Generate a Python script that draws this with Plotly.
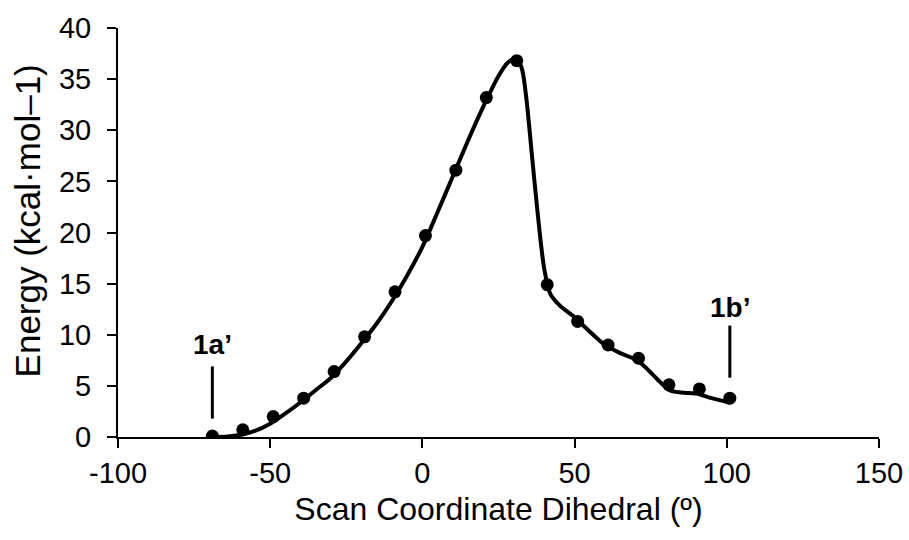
import plotly.graph_objects as go

# Scan points (dihedral in degrees, energy in kcal/mol)
scan_x = [-69, -59, -49, -39, -29, -19, -9, 1, 11, 21, 31, 41, 51, 61, 71, 81, 91, 101]
scan_y = [0.1, 0.7, 2.0, 3.8, 6.4, 9.8, 14.2, 19.7, 26.1, 33.2, 36.8, 14.9, 11.3, 9.0, 7.7, 5.1, 4.7, 3.8]

# Smooth fitted curve
fit_x = [-69, -64, -60, -55, -50, -45, -40, -35, -30, -25, -20, -15, -10, -5, 0, 5, 10, 15, 20, 25,
         28, 30.5, 32.5, 34, 36, 38, 40, 42, 45, 50, 55, 60, 65, 70, 73, 77, 81, 85, 90, 95, 101]
fit_y = [0.0, 0.05, 0.2, 0.6, 1.3, 2.3, 3.4, 4.6, 5.8, 7.4, 9.2, 11.1, 13.3, 15.8, 18.6, 22.0, 25.5, 29.0, 32.3, 35.3,
         36.6, 37.0, 36.2, 33.5, 27.5, 21.5, 16.5, 14.0, 12.9, 11.7, 10.3, 9.0, 8.2, 7.6, 6.9, 5.7, 4.6, 4.35, 4.25, 3.8, 3.35]

x_ticks = [-100, -50, 0, 50, 100, 150]
y_ticks = [0, 5, 10, 15, 20, 25, 30, 35, 40]

FONT = "Liberation Sans, Arial, sans-serif"

fig = go.Figure()
fig.add_trace(go.Scatter(x=fit_x, y=fit_y, mode="lines",
                         line=dict(color="black", width=4, shape="spline", smoothing=0.8),
                         showlegend=False, hoverinfo="skip"))
fig.add_trace(go.Scatter(x=scan_x, y=scan_y, mode="markers",
                         marker=dict(color="black", size=13),
                         showlegend=False))

# labels for end structures
labels = [("1a’", scan_x[0], scan_y[0], 1.8, 6.9, 9.0),
          ("1b’", scan_x[-1], scan_y[-1], 5.8, 10.9, 12.7)]
for txt, lx, ly, y0, y1, ty in labels:
    fig.add_shape(type="line", x0=lx, x1=lx, y0=y0, y1=y1, xref="x", yref="y",
                  line=dict(color="black", width=3))
    fig.add_annotation(x=lx, y=ty, text="<b>%s</b>" % txt, showarrow=False,
                       font=dict(family=FONT, size=28, color="black"),
                       xanchor="center", yanchor="middle")

# y-axis title (placed as rotated text, as in the reference)
fig.add_annotation(text="Energy (kcal·mol–1)", textangle=-90, showarrow=False,
                   xref="paper", yref="paper", x=-0.1196, y=0.142,
                   xanchor="center", yanchor="bottom",
                   font=dict(family=FONT, size=35, color="black"))

axis_common = dict(showline=True, linecolor="black", linewidth=2, ticks="outside",
                   ticklen=9, tickwidth=2, tickcolor="black", showgrid=False, zeroline=False,
                   automargin=False,
                   tickfont=dict(family=FONT, size=29, color="black"))

fig.update_xaxes(range=[-100, 150], tickvals=x_ticks, ticktext=[str(v) for v in x_ticks],
                 title_text="Scan Coordinate Dihedral (º)", title_standoff=10,
                 title_font=dict(family=FONT, size=32, color="black"), **axis_common)
fig.update_yaxes(range=[0, 40], tickvals=y_ticks, ticktext=[str(v) for v in y_ticks],
                 ticklabelstandoff=10, **axis_common)

fig.update_layout(width=909, height=540, margin=dict(l=118, r=30, t=28, b=103),
                  plot_bgcolor="white", paper_bgcolor="white",
                  font=dict(family=FONT, color="black"))

fig.write_html("out.html")
